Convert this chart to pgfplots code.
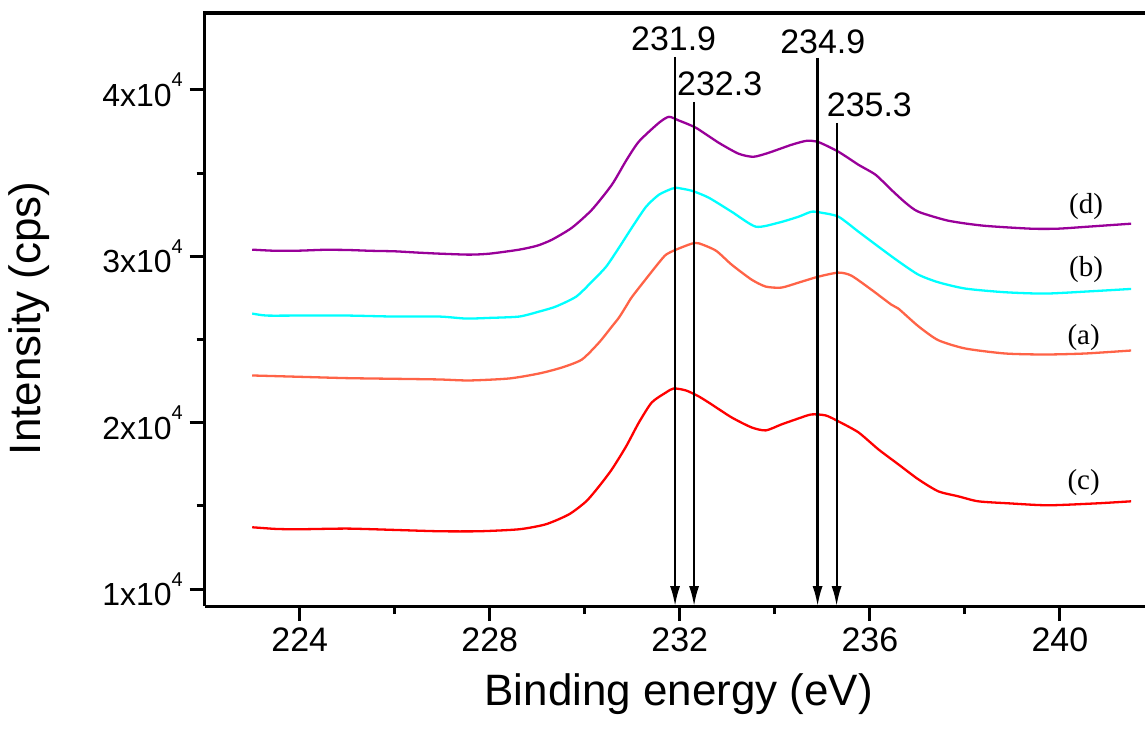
\documentclass[border=0pt]{standalone}
\usepackage{fontspec}
\setmainfont{Liberation Sans}
\newfontfamily\serifF{Liberation Serif}
\usepackage{pgfplots}
\pgfplotsset{compat=1.18}
\usetikzlibrary{arrows.meta}
\definecolor{cpurple}{RGB}{153,0,153}
\definecolor{ccyan}{RGB}{0,255,255}
\definecolor{corange}{RGB}{255,99,71}
\definecolor{cred}{RGB}{255,0,0}
\newcommand{\sci}[1]{#1x10\raisebox{0.6em}{\fontsize{10}{10}\selectfont 4}}
\begin{document}
\begin{tikzpicture}
\begin{axis}[
  at={(0,0)}, anchor=south west,
  scale only axis, width=471pt, height=297pt,
  xmin=222, xmax=241.8, ymin=8980, ymax=44620,
  axis x line=box, axis y line=left,
  xtick pos=left, xticklabel pos=left,
  axis line style={-, line width=1.5pt},
  scaled y ticks=false, scaled x ticks=false,
  clip=false,
  tick align=outside,
  major tick length=7.5pt, minor tick length=4pt,
  every tick/.style={black, line width=1.5pt},
  xtick={224,228,232,236,240},
  minor xtick={226,230,234,238},
  ytick={10000,20000,30000,40000},
  minor ytick={15000,25000,35000},
  yticklabels={\sci{1},\sci{2},\sci{3},\sci{4}},
  /pgf/number format/assume math mode=true,
  xticklabel style={font=\fontsize{17}{20}\selectfont},
  yticklabel style={font=\fontsize{16}{19}\selectfont},
  xlabel={Binding energy (eV)},
  ylabel={Intensity (cps)},
  xlabel style={font=\fontsize{22}{26}\selectfont, at={(axis description cs:0.504,-0.148)}, anchor=center},
  ylabel style={font=\fontsize{22}{26}\selectfont, at={(axis description cs:-0.187,0.485)}, anchor=center, rotate=0},
  every axis plot/.append style={smooth, tension=0.4, line width=1.15pt},
]
% (d) purple
\addplot[cpurple] coordinates {
(223.0,30400) (223.5,30330) (224.0,30340) (224.5,30390) (225.0,30380) (225.5,30330)
(226.0,30300) (226.5,30220) (226.94,30160) (227.57,30100) (228.0,30160) (228.62,30400)
(229.0,30640) (229.31,31000) (229.73,31720) (230.15,32800) (230.57,34300) (230.87,35750)
(231.14,36900) (231.56,38020) (231.77,38380) (231.98,38160) (232.34,37720) (232.82,36820)
(233.24,36160) (233.55,35980) (233.87,36220) (234.35,36700) (234.67,36940) (234.92,36860)
(235.34,36280) (235.76,35500) (236.12,34900) (236.45,34000) (236.75,33220) (237.02,32680)
(237.65,32140) (238.39,31840) (239.39,31660) (239.96,31660) (240.59,31780) (241.50,31960)
};
% (b) cyan
\addplot[ccyan] coordinates {
(223.0,26560) (223.3,26440) (224.0,26440) (225.0,26440) (226.0,26380) (226.94,26380)
(227.5,26260) (228.0,26300) (228.62,26380) (229.04,26680) (229.39,26980) (229.82,27580)
(230.15,28480) (230.45,29380) (230.72,30520) (230.99,31720) (231.29,32980) (231.56,33700)
(231.83,34060) (231.92,34120) (232.25,33940) (232.61,33520) (233.09,32680) (233.60,31780)
(234.08,32020) (234.50,32380) (234.77,32680) (234.98,32620) (235.34,32380) (235.76,31480)
(236.18,30580) (236.60,29700) (237.02,28900) (237.44,28440) (238.01,28060) (238.85,27840)
(239.69,27760) (240.66,27900) (241.50,28040)
};
% (a) orange
\addplot[corange] coordinates {
(223.0,22840) (224.0,22760) (225.0,22680) (226.0,22640) (226.94,22600) (227.57,22540)
(228.41,22660) (229.04,22960) (229.52,23320) (229.94,23800) (230.30,24820) (230.57,25780)
(230.72,26320) (230.87,27000) (230.99,27550) (231.29,28650) (231.56,29620) (231.71,30100)
(231.92,30400) (232.25,30760) (232.40,30780) (232.76,30340) (233.09,29500) (233.51,28600)
(233.81,28180) (234.14,28120) (234.50,28420) (234.92,28780) (235.34,29020) (235.61,28840)
(236.03,28000) (236.45,27100) (236.60,26860) (237.02,25800) (237.44,24960) (238.01,24460)
(238.85,24160) (239.69,24100) (240.53,24160) (241.50,24340)
};
% (c) red
\addplot[cred] coordinates {
(223.0,13720) (223.5,13620) (224.0,13600) (225.0,13640) (226.0,13560) (226.94,13480)
(227.78,13480) (228.62,13600) (229.18,13900) (229.67,14500) (230.03,15280) (230.30,16180)
(230.57,17200) (230.87,18580) (231.14,20020) (231.41,21220) (231.71,21820) (231.87,22060)
(232.13,21940) (232.40,21580) (232.67,21100) (233.09,20320) (233.51,19720) (233.81,19540)
(234.14,19900) (234.50,20260) (234.77,20500) (235.07,20440) (235.34,20080) (235.76,19420)
(236.18,18400) (236.60,17500) (237.02,16600) (237.44,15880) (237.86,15580) (238.28,15280)
(238.91,15160) (239.75,15040) (240.80,15160) (241.50,15280)
};
% arrows
\draw[line width=1.1pt, -{Latex[length=10pt,width=5pt]}] (axis cs:231.9,41980) -- (axis cs:231.9,8980);
\draw[line width=1.1pt, -{Latex[length=10pt,width=5pt]}] (axis cs:232.3,39280) -- (axis cs:232.3,8980);
\draw[line width=1.1pt, -{Latex[length=10pt,width=5pt]}] (axis cs:234.9,41920) -- (axis cs:234.9,8980);
\draw[line width=1.1pt, -{Latex[length=10pt,width=5pt]}] (axis cs:235.3,38020) -- (axis cs:235.3,8980);
\node[font=\fontsize{17}{20}\selectfont] at (axis cs:231.87,43090) {231.9};
\node[font=\fontsize{17}{20}\selectfont] at (axis cs:232.84,40360) {232.3};
\node[font=\fontsize{17}{20}\selectfont] at (axis cs:235.01,42880) {234.9};
\node[font=\fontsize{17}{20}\selectfont] at (axis cs:235.99,39100) {235.3};
% curve labels
\node[font=\serifF\fontsize{14.5}{16}\selectfont] at (axis cs:240.55,32980) {(d)};
\node[font=\serifF\fontsize{14.5}{16}\selectfont] at (axis cs:240.55,29200) {(b)};
\node[font=\serifF\fontsize{14.5}{16}\selectfont] at (axis cs:240.50,25120) {(a)};
\node[font=\serifF\fontsize{14.5}{16}\selectfont] at (axis cs:240.50,16425) {(c)};
\end{axis}
\draw[line width=1.6pt, black] (-0.75pt,297pt) -- (471pt,297pt);
\path (-102.5pt,-63pt) rectangle (471pt,303.5pt);
\end{tikzpicture}
\end{document}
